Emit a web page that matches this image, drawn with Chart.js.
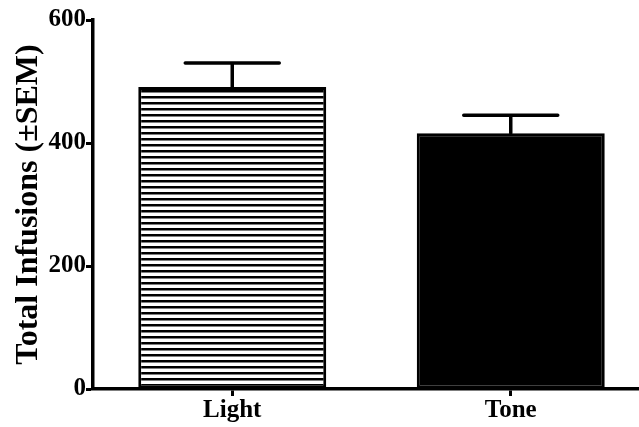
<!DOCTYPE html>
<html>
<head>
<meta charset="utf-8">
<script src="https://cdn.jsdelivr.net/npm/chart.js@4.4.0/dist/chart.umd.min.js"></script>
<style>
  html, body { margin: 0; padding: 0; background: #fff; overflow: hidden; }
  #wrap { width: 650px; height: 427px; }
</style>
</head>
<body>
<div id="wrap"><canvas id="infusionsChart"></canvas></div>
<script>
const categories = ['Light', 'Tone'];
const means = [491, 416];
const sems = [39, 29];
const yTicks = [0, 200, 400, 600];

const FONT = 'Liberation Serif, Times New Roman, serif';

// horizontal stripes for the "Light" bar
function stripes() {
  const c = document.createElement('canvas');
  c.width = 8; c.height = 6;
  const g = c.getContext('2d');
  g.fillStyle = '#fff';
  g.fillRect(0, 0, 8, 6);
  g.fillStyle = '#000';
  g.fillRect(0, 0, 8, 2);
  g.fillStyle = 'rgba(0,0,0,0.5)';
  g.fillRect(0, 2, 8, 1);
  return g.createPattern(c, 'repeat');
}

// upward SEM bars with caps half the bar width
const errorBars = {
  id: 'errorBars',
  afterDatasetsDraw(chart) {
    const ctx = chart.ctx;
    const y = chart.scales.y;
    const meta = chart.getDatasetMeta(0);
    ctx.save();
    ctx.strokeStyle = '#000';
    ctx.lineWidth = 3.5;
    ctx.lineCap = 'round';
    meta.data.forEach((bar, i) => {
      const top = y.getPixelForValue(means[i] + sems[i]);
      const half = bar.width / 4;
      ctx.beginPath();
      ctx.moveTo(bar.x, bar.y);
      ctx.lineTo(bar.x, top);
      ctx.moveTo(bar.x - half, top);
      ctx.lineTo(bar.x + half, top);
      ctx.stroke();
    });
    ctx.restore();
  }
};

const ctx = document.getElementById('infusionsChart').getContext('2d');
new Chart(ctx, {
  type: 'bar',
  data: {
    labels: categories,
    datasets: [{
      data: means,
      backgroundColor: [stripes(), '#000'],
      borderColor: '#000',
      borderWidth: 3,
      borderSkipped: false,
      barPercentage: 0.675,
      categoryPercentage: 1
    }]
  },
  options: {
    responsive: true,
    maintainAspectRatio: false,
    animation: false,
    layout: { padding: { top: 20, right: 0, left: 0, bottom: 0 } },
    plugins: { legend: { display: false }, tooltip: { enabled: false } },
    scales: {
      x: {
        afterFit(scale) { scale.height = 38; },
        grid: { offset: false, drawOnChartArea: false, tickLength: 7, tickWidth: 3, tickColor: '#000' },
        border: { color: '#000', width: 3.5 },
        ticks: { color: '#000', font: { family: FONT, size: 25, weight: 'bold' }, padding: 0 }
      },
      y: {
        min: 0,
        max: 600,
        afterFit(scale) { scale.width = 93; },
        afterBuildTicks(scale) { scale.ticks = yTicks.map(v => ({ value: v })); },
        grid: { drawOnChartArea: false, tickLength: 7, tickWidth: 3, tickColor: '#000' },
        border: { color: '#000', width: 3.5 },
        ticks: { color: '#000', font: { family: FONT, size: 25, weight: 'bold' }, padding: 0 },
        title: {
          display: true,
          text: 'Total Infusions (±SEM)',
          color: '#000',
          font: { family: FONT, size: 32, weight: 'bold' },
          padding: { top: 10, bottom: 0 }
        }
      }
    }
  },
  plugins: [errorBars]
});
</script>
</body>
</html>
